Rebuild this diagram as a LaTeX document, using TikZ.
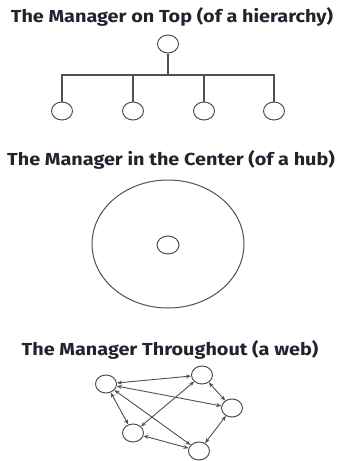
\documentclass[tikz,border=0pt]{standalone}
\usepackage{fontspec}
\setmainfont{Fira Sans}
\newfontfamily\titlefont[FakeStretch=1.14]{Fira Sans}
\usetikzlibrary{arrows.meta,shapes.geometric}
\definecolor{titlecol}{HTML}{23232F}
\definecolor{linecol}{HTML}{505050}
\begin{document}
\begin{tikzpicture}[x=1pt,y=-1pt,
  title/.style={font=\titlefont\fontsize{17.4}{19}\selectfont\bfseries, text=titlecol, inner sep=0pt, anchor=base},
  member/.style={draw=linecol, line width=1pt, ellipse, minimum width=21pt, minimum height=18pt, inner sep=0pt},
  link/.style={draw=linecol, line width=1.3pt},
  tie/.style={draw=linecol, line width=0.9pt,
    {Stealth[length=5pt,width=4pt]}-{Stealth[length=5pt,width=4pt]}}]
\useasboundingbox (0,0) rectangle (337,461);

% --- hierarchy ---
\node[title] (t1) at (172,22) {The Manager on Top (of a hierarchy)};
\node[member] (top) at (168,44) {};
\coordinate (bar) at (168,75);
\node[member] (m1) at (62,111) {};
\node[member] (m2) at (133,111) {};
\node[member] (m3) at (204,111) {};
\node[member] (m4) at (274,111) {};
\draw[link] (top.south) -- (top|-bar);
\draw[link] (m1.north) -- (m1|-bar) -- (m4|-bar) -- (m4.north);
\draw[link] (m2.north) -- (m2|-bar);
\draw[link] (m3.north) -- (m3|-bar);

% --- hub ---
\node[title] (t2) at (171,165) {The Manager in the Center (of a hub)};
\node[draw=linecol, line width=1pt, ellipse, minimum width=152pt, minimum height=128pt, inner sep=0pt] (hub) at (168,244) {};
\node[member, minimum width=22pt] (mc) at (168,245) {};

% --- web ---
\node[title] (t3) at (170,355) {The Manager Throughout (a web)};
\node[member] (a) at (106,384) {};
\node[member] (b) at (202,375) {};
\node[member] (c) at (232,408) {};
\node[member] (d) at (133,433) {};
\node[member] (e) at (199,451) {};
\draw[tie] (a) -- (b);
\draw[tie] (a) -- (c);
\draw[tie] (a) -- (d);
\draw[tie] (a) -- (e);
\draw[tie] (b) -- (c);
\draw[tie] (b) -- (d);
\draw[tie] (c) -- (e);
\draw[tie] (d) -- (e);
\end{tikzpicture}
\end{document}
